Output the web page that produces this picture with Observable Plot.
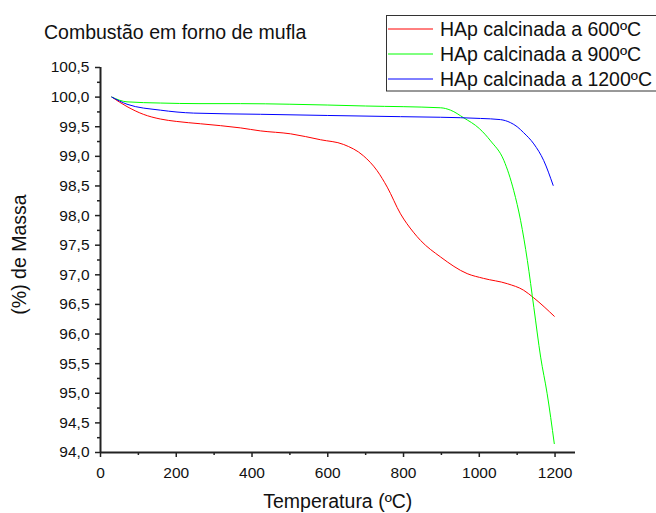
<!DOCTYPE html>
<html>
<head>
<meta charset="utf-8">
<script src="https://cdn.jsdelivr.net/npm/d3@7"></script>
<script src="https://cdn.jsdelivr.net/npm/@observablehq/plot@0.6"></script>
<style>
  html, body { margin: 0; padding: 0; background: #fff; }
  #chart svg { display: block; font-family: "Liberation Sans", Arial, sans-serif; }
</style>
</head>
<body>
<div id="chart"></div>
<script>
const title = "Combustão em forno de mufla";
const xTitle = "Temperatura (ºC)";
const yTitle = "(%) de Massa";
const seriesNames = ["HAp calcinada a 600ºC", "HAp calcinada a 900ºC", "HAp calcinada a 1200ºC"];
const seriesColors = ["#ff0000", "#00ff00", "#0000ff"];

const temp600 = [30, 70, 113, 158, 200, 264, 370, 422, 502, 581, 642, 694, 730, 757, 792, 826, 845, 898, 968, 1011, 1074, 1117, 1144, 1198];
const mass600 = [100.0, 99.84, 99.71, 99.63, 99.59, 99.55, 99.48, 99.43, 99.38, 99.28, 99.20, 99.01, 98.76, 98.48, 98.03, 97.72, 97.58, 97.30, 97.02, 96.94, 96.85, 96.74, 96.61, 96.30];

const temp900 = [30, 70, 158, 260, 370, 500, 700, 898, 924, 959, 1000, 1030, 1065, 1091, 1109, 1127, 1144, 1162, 1179, 1198];
const mass900 = [100.0, 99.92, 99.90, 99.89, 99.89, 99.88, 99.85, 99.82, 99.78, 99.65, 99.47, 99.26, 98.93, 98.42, 97.92, 97.24, 96.45, 95.61, 95.00, 94.15];

const temp1200 = [30, 70, 158, 246, 422, 600, 792, 898, 1003, 1056, 1082, 1100, 1117, 1144, 1170, 1195];
const mass1200 = [100.0, 99.88, 99.78, 99.73, 99.71, 99.69, 99.67, 99.66, 99.64, 99.62, 99.57, 99.50, 99.40, 99.21, 98.93, 98.51];

const xMajorTicks = [0, 200, 400, 600, 800, 1000, 1200];
const xMinorTicks = [100, 300, 500, 700, 900, 1100];
const yMajorTicks = [94.0, 94.5, 95.0, 95.5, 96.0, 96.5, 97.0, 97.5, 98.0, 98.5, 99.0, 99.5, 100.0, 100.5];
const yMinorTicks = [94.25, 94.75, 95.25, 95.75, 96.25, 96.75, 97.25, 97.75, 98.25, 98.75, 99.25, 99.75, 100.25];

const temps = [temp600, temp900, temp1200];
const masses = [mass600, mass900, mass1200];
const data = [];
temps.forEach((ts, i) => ts.forEach((t, j) => data.push({series: seriesNames[i], t, m: masses[i][j]})));

const W = 656, H = 513;
const fmt = d => d.toFixed(1).replace(".", ",");

const plot = Plot.plot({
  width: W,
  height: H,
  marginLeft: 100,
  marginRight: 81,
  marginTop: 67,
  marginBottom: 61,
  style: {fontFamily: "'Liberation Sans', Arial, sans-serif", background: "#fff", color: "#111"},
  x: {domain: [0, 1254], axis: null},
  y: {domain: [94, 100.5], axis: null},
  color: {domain: seriesNames, range: seriesColors},
  marks: [
    Plot.axisX({ticks: xMajorTicks, tickSize: 5, tickPadding: 9, fontSize: 15.5, label: null, tickFormat: d => String(d), stroke: "#222", strokeWidth: 1.5}),
    Plot.axisX({ticks: xMinorTicks, tickSize: 3, label: null, tickFormat: () => "", stroke: "#222", strokeWidth: 1.5}),
    Plot.axisY({ticks: yMajorTicks, tickSize: 5, tickPadding: 6, fontSize: 15.5, label: null, tickFormat: fmt, stroke: "#222", strokeWidth: 1.5}),
    Plot.axisY({ticks: yMinorTicks, tickSize: 3, label: null, tickFormat: () => "", stroke: "#222", strokeWidth: 1.5}),
    Plot.lineY(data, {x: "t", y: "m", z: "series", stroke: "series", strokeWidth: 1, curve: "monotone-x"}),
    Plot.ruleX([0], {stroke: "#222", strokeWidth: 2}),
    Plot.ruleY([94], {stroke: "#222", strokeWidth: 2})
  ]
});

document.getElementById("chart").appendChild(plot);

const svg = d3.select(plot);
const font = "'Liberation Sans', Arial, sans-serif";

svg.append("text")
  .attr("x", 44).attr("y", 39)
  .attr("text-anchor", "start")
  .attr("font-size", 19.5).attr("font-family", font).attr("fill", "#111")
  .text(title);

svg.append("text")
  .attr("x", 337.8).attr("y", 508)
  .attr("text-anchor", "middle")
  .attr("font-size", 19.5).attr("font-family", font).attr("fill", "#111")
  .text(xTitle);

svg.append("text")
  .attr("transform", "translate(25.5,254.5) rotate(-90)")
  .attr("text-anchor", "middle")
  .attr("font-size", 19.5).attr("font-family", font).attr("fill", "#111")
  .text(yTitle);

// legend
const lg = svg.append("g");
lg.append("rect")
  .attr("x", 386.5).attr("y", 15.5).attr("width", 280).attr("height", 75.5)
  .attr("fill", "#fff").attr("stroke", "#333").attr("stroke-width", 1);
seriesNames.forEach((name, i) => {
  const cy = 29 + i * 25;
  lg.append("line")
    .attr("x1", 388).attr("x2", 433).attr("y1", cy).attr("y2", cy)
    .attr("stroke", seriesColors[i]).attr("stroke-width", 1);
  lg.append("text")
    .attr("x", 440).attr("y", cy + 7)
    .attr("text-anchor", "start")
    .attr("font-size", 19.5).attr("font-family", font).attr("fill", "#111")
    .text(name);
});
</script>
</body>
</html>
